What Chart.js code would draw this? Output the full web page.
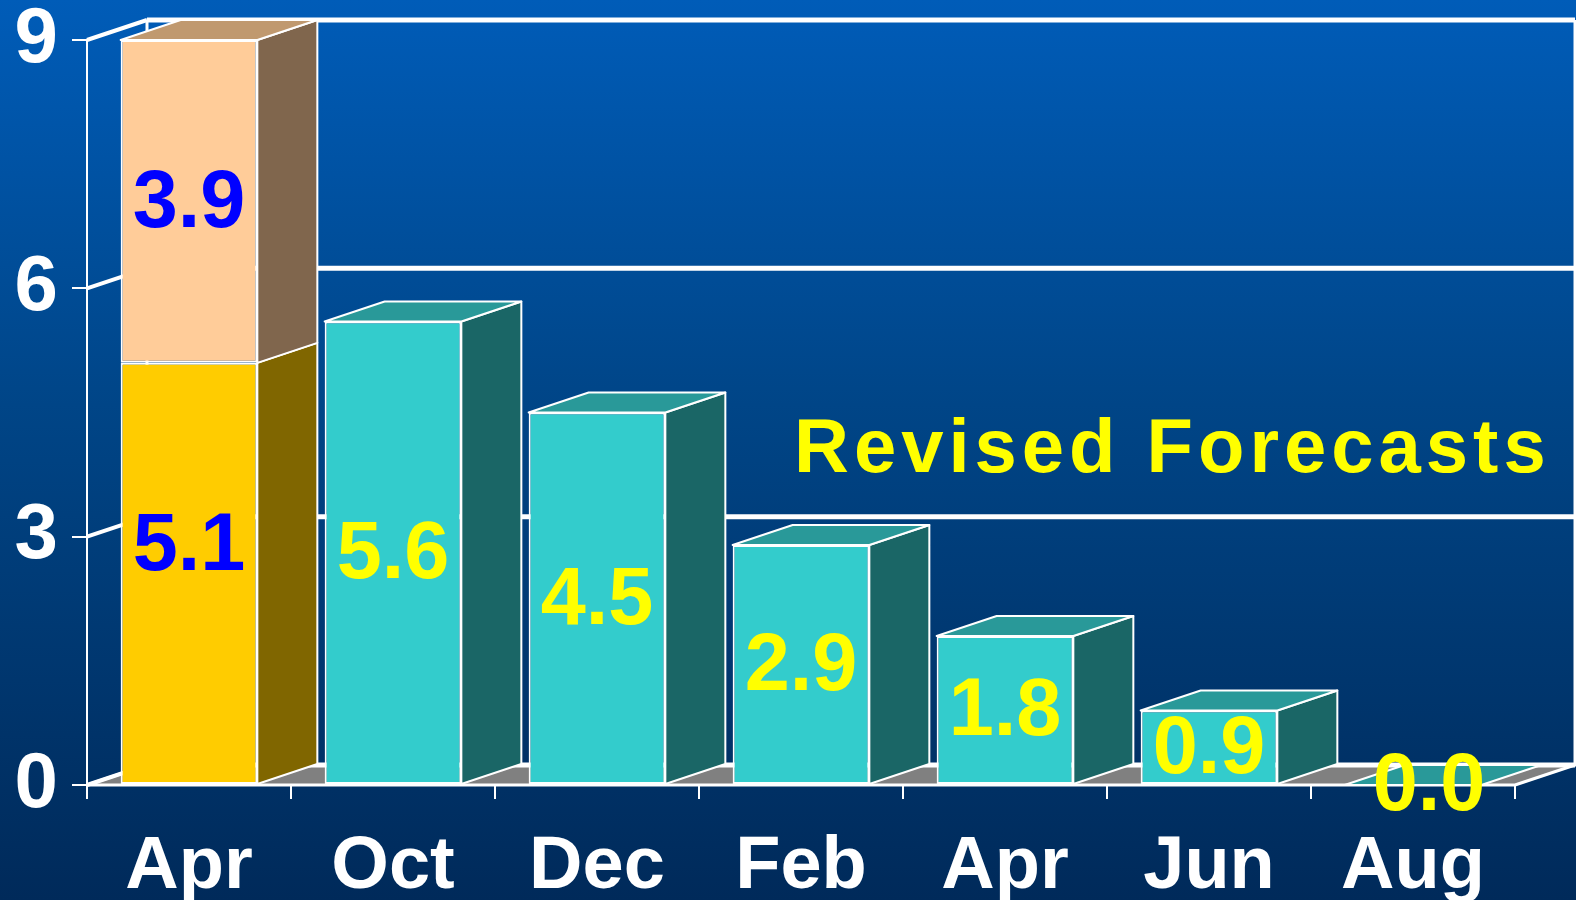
<!DOCTYPE html>
<html>
<head>
<meta charset="utf-8">
<script src="https://cdn.jsdelivr.net/npm/chart.js@4.4.1/dist/chart.umd.min.js"></script>
<style>
    html, body { margin: 0; padding: 0; }
    body {
        width: 1576px;
        height: 900px;
        overflow: hidden;
        background: linear-gradient(to bottom, #005cb8 0%, #004587 45%, #002a5a 100%);
    }
    canvas { display: block; }
</style>
</head>
<body>
<canvas id="chart-bar" width="1576" height="900"></canvas>
<script>
var categories = ['Apr', 'Oct', 'Dec', 'Feb', 'Apr', 'Jun', 'Aug'];
var actualValues = [5.1, 5.6, 4.5, 2.9, 1.8, 0.9, 0.0];
var originalExtra = [3.9, null, null, null, null, null, null];
var yTickValues = [0, 3, 6, 9];
var noteText = 'Revised Forecasts';

var FONT = '"Liberation Sans", Arial, sans-serif';
var DX = 60, DY = -20;

// front / top / side colours
var gold = ['#ffcc00', '#b39000', '#806600'];
var peach = ['#ffcc99', '#c0996f', '#80664d'];
var teal = ['#33cccc', '#299999', '#1a6666'];

function faceColors(datasetIndex, index) {
    if (datasetIndex === 1) return peach;
    return index === 0 ? gold : teal;
}

function poly(ctx, pts, fill) {
    ctx.beginPath();
    ctx.moveTo(pts[0][0], pts[0][1]);
    for (var i = 1; i < pts.length; i++) ctx.lineTo(pts[i][0], pts[i][1]);
    ctx.closePath();
    if (fill) {
        ctx.fillStyle = fill;
        ctx.fill();
    }
    ctx.stroke();
}

// walls, floor and grid of the 3d box
var boxPlugin = {
    id: 'box3d',
    beforeDatasetsDraw: function(chart) {
        var ctx = chart.ctx;
        var area = chart.chartArea;
        var y = chart.scales.y;
        var L = area.left, R = area.right, B = y.getPixelForValue(0);

        ctx.save();
        ctx.strokeStyle = '#ffffff';
        ctx.lineJoin = 'round';

        // floor
        ctx.lineWidth = 3;
        poly(ctx, [[L, B], [R, B], [R + DX, B + DY], [L + DX, B + DY]], '#808080');

        // back wall lines
        yTickValues.forEach(function(v) {
            var py = y.getPixelForValue(v);
            ctx.lineWidth = 5;
            ctx.beginPath();
            ctx.moveTo(L + DX, py + DY);
            ctx.lineTo(R + DX, py + DY);
            ctx.stroke();
            ctx.lineWidth = 4;
            ctx.beginPath();
            ctx.moveTo(L, py);
            ctx.lineTo(L + DX, py + DY);
            ctx.stroke();
        });

        var topY = y.getPixelForValue(9);
        ctx.lineWidth = 3;
        ctx.beginPath();
        ctx.moveTo(L + DX, topY + DY);
        ctx.lineTo(L + DX, B + DY);
        ctx.moveTo(R + DX, topY + DY);
        ctx.lineTo(R + DX, B + DY);
        ctx.stroke();

        ctx.lineWidth = 2;
        ctx.beginPath();
        ctx.moveTo(L, topY);
        ctx.lineTo(L, B);
        ctx.stroke();
        ctx.restore();
    },
    afterDatasetsDraw: function(chart) {
        var ctx = chart.ctx;
        ctx.save();
        ctx.strokeStyle = '#ffffff';
        ctx.lineWidth = 2;
        ctx.lineJoin = 'round';

        var n = categories.length;
        var bars = [];
        chart.data.datasets.forEach(function(ds, di) {
            var meta = chart.getDatasetMeta(di);
            meta.data.forEach(function(bar, i) {
                if (ds.data[i] === null || ds.data[i] === undefined) return;
                var p = bar.getProps(['x', 'y', 'base', 'width'], true);
                bars.push({ di: di, i: i, p: p, v: ds.data[i] });
            });
        });

        // side faces
        bars.forEach(function(b) {
            var c = faceColors(b.di, b.i);
            var right = b.p.x + b.p.width / 2;
            var top = Math.min(b.p.y, b.p.base), bottom = Math.max(b.p.y, b.p.base);
            if (bottom - top < 0.5) return;
            poly(ctx, [[right, bottom], [right + DX, bottom + DY], [right + DX, top + DY], [right, top]], c[2]);
        });

        // top faces (only topmost segment)
        for (var i = 0; i < n; i++) {
            var topBar = null;
            bars.forEach(function(b) {
                if (b.i === i) topBar = b;
            });
            if (!topBar) continue;
            var c = faceColors(topBar.di, i);
            var left = topBar.p.x - topBar.p.width / 2, right = topBar.p.x + topBar.p.width / 2;
            var top = Math.min(topBar.p.y, topBar.p.base);
            poly(ctx, [[left, top], [left + DX, top + DY], [right + DX, top + DY], [right, top]], c[1]);
        }

        // value labels
        ctx.font = 'bold 81px ' + FONT;
        ctx.textAlign = 'center';
        ctx.textBaseline = 'middle';
        bars.forEach(function(b) {
            ctx.fillStyle = b.i === 0 ? '#0000ff' : '#ffff00';
            var off = (b.di === 0 && b.i === 0) ? -26 : 3;
            var shift = b.v === 0 ? 16 : 0;  // flat bar: label sits on the top face
            ctx.fillText(b.v.toFixed(1), b.p.x + shift, (b.p.y + b.p.base) / 2 + off);
        });

        // note
        ctx.font = 'bold 76px ' + FONT;
        ctx.letterSpacing = '5px';
        ctx.textAlign = 'left';
        ctx.textBaseline = 'alphabetic';
        ctx.fillStyle = '#ffff00';
        ctx.fillText(noteText, 794, 472);
        ctx.restore();
    }
};

var ctx = document.getElementById('chart-bar').getContext('2d');
window.chart = new Chart(ctx, {
    type: 'bar',
    data: {
        labels: categories,
        datasets: [{
            label: 'Actual / revised',
            data: actualValues,
            backgroundColor: function(c) { return faceColors(0, c.dataIndex)[0]; },
            borderColor: '#ffffff',
            borderWidth: 2,
            borderSkipped: false,
            barPercentage: 0.67,
            categoryPercentage: 1.0
        }, {
            label: 'Original',
            data: originalExtra,
            backgroundColor: peach[0],
            borderColor: '#ffffff',
            borderWidth: 2,
            borderSkipped: false,
            barPercentage: 0.67,
            categoryPercentage: 1.0
        }]
    },
    options: {
        responsive: false,
        animation: false,
        layout: {
            padding: { top: 40, right: 61, left: 0, bottom: 0 }
        },
        plugins: {
            legend: { display: false },
            tooltip: { enabled: false }
        },
        scales: {
            x: {
                stacked: true,
                afterFit: function(scale) { scale.height = 115; },
                grid: {
                    display: true,
                    drawOnChartArea: false,
                    drawTicks: true,
                    tickLength: 14,
                    color: '#ffffff',
                    lineWidth: 2
                },
                border: { display: false },
                ticks: {
                    color: '#ffffff',
                    padding: 24,
                    maxRotation: 0,
                    font: { size: 74, weight: 'bold', family: FONT }
                }
            },
            y: {
                stacked: true,
                min: 0,
                max: 9,
                afterFit: function(scale) { scale.width = 87; },
                afterBuildTicks: function(scale) {
                    scale.ticks = yTickValues.map(function(v) { return { value: v }; });
                },
                grid: {
                    display: true,
                    drawOnChartArea: false,
                    drawTicks: true,
                    tickLength: 15,
                    color: '#ffffff',
                    lineWidth: 2
                },
                border: { display: false },
                ticks: {
                    color: '#ffffff',
                    padding: 14,
                    font: { size: 78, weight: 'bold', family: FONT, lineHeight: 0.6 }
                }
            }
        }
    },
    plugins: [boxPlugin]
});
</script>
</body>
</html>
